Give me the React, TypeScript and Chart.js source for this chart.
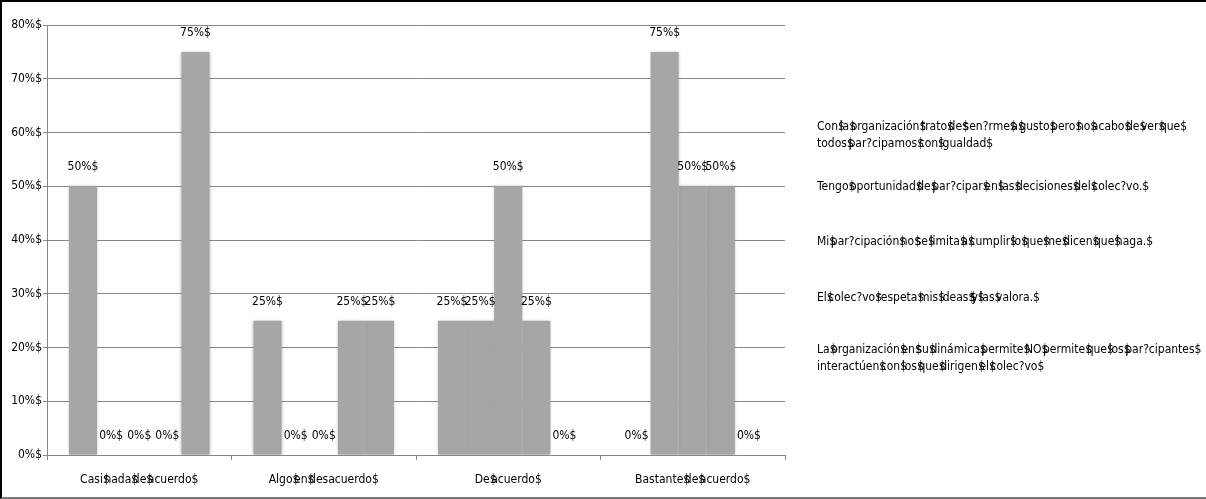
import React, { useEffect, useRef } from "react";
import { Chart, registerables } from "chart.js";

Chart.register(...registerables);

const categories = [
  "Casi$nada$de$acuerdo$",
  "Algo$en$desacuerdo$",
  "De$acuerdo$",
  "Bastante$de$acuerdo$",
];

const seriesNames = [
  "Con$la$organización$trato$de$sen?rme$a$gusto$pero$no$acabo$de$ver$que$\ntodos$par?cipamos$con$igualdad$",
  "Tengo$oportunidad$de$par?cipar$en$las$decisiones$del$colec?vo.$",
  "Mi$par?cipación$no$se$limita$a$cumplir$lo$que$me$dicen$que$haga.$",
  "El$colec?vo$respeta$mis$ideas$$y$las$valora.$",
  "La$organización$en$su$dinámica$permite$NO$permite$que$los$par?cipantes$\ninteractúen$con$los$que$dirigen$el$colec?vo$",
];

const series1 = [50, 25, 25, 0];
const series2 = [0, 0, 25, 75];
const series3 = [0, 0, 50, 50];
const series4 = [0, 25, 25, 50];
const series5 = [75, 25, 0, 0];

const yTicks = [0, 10, 20, 30, 40, 50, 60, 70, 80];

const legendLineTops = [118, 178, 233, 289, 341];

const FONT = "'DejaVu Sans Condensed', 'DejaVu Sans', sans-serif";
const FS = 12;
const LEGEND_FS = 12;
const DOLLAR_ADV = 1.5;

// draws text where an inner "$" only advances a little (overlapping the next glyph)
function drawDollarText(ctx: any, text: string, cx: number, cy: number) {
  const segs = text.split("$");
  const wD = ctx.measureText("$").width;
  let total = 0;
  segs.forEach((s, i) => {
    total += ctx.measureText(s).width;
    if (i < segs.length - 1) {
      const isLast = i === segs.length - 2 && segs[segs.length - 1] === "";
      total += isLast ? wD : DOLLAR_ADV;
    }
  });
  let x = cx - total / 2;
  ctx.textAlign = "left";
  ctx.textBaseline = "middle";
  segs.forEach((s, i) => {
    ctx.fillText(s, x, cy);
    x += ctx.measureText(s).width;
    if (i < segs.length - 1) {
      ctx.fillText("$", x, cy);
      const isLast = i === segs.length - 2 && segs[segs.length - 1] === "";
      x += isLast ? wD : DOLLAR_ADV;
    }
  });
}

const labelsPlugin = {
  id: "customLabels",
  afterDatasetsDraw(chart: any) {
    const ctx = chart.ctx;
    ctx.save();
    ctx.shadowColor = "transparent";
    ctx.shadowBlur = 0;
    ctx.font = `${FS}px ${FONT}`;
    ctx.fillStyle = "#000";
    ctx.textAlign = "center";
    ctx.textBaseline = "middle";
    chart.data.datasets.forEach((ds: any, i: number) => {
      const meta = chart.getDatasetMeta(i);
      meta.data.forEach((el: any, j: number) => {
        ctx.fillText(`${ds.data[j]}%$`, el.x, el.y - 19);
      });
    });
    const xs = chart.scales.x;
    chart.data.labels.forEach((lab: string, i: number) => {
      drawDollarText(ctx, lab, xs.getPixelForValue(i), xs.top + 25);
    });
    ctx.restore();
  },
};

const shadowPlugin = {
  id: "barShadow",
  beforeDatasetsDraw(chart: any) {
    const ctx = chart.ctx;
    ctx.save();
    ctx.shadowColor = "rgba(140,140,140,0.6)";
    ctx.shadowBlur = 3;
  },
  afterDatasetsDraw(chart: any) {
    chart.ctx.restore();
  },
};

function renderWithDollars(text: string) {
  const lines = text.split("\n");
  return lines.map((line, li) => (
    <div key={li} style={{ height: 17, lineHeight: "17px", whiteSpace: "nowrap" }}>
      {line.split("$").map((part, pi, arr) => (
        <React.Fragment key={pi}>
          {part}
          {pi < arr.length - 1 ? (
            <span
              style={{
                display: "inline-block",
                width: pi < arr.length - 2 ? 1.5 : "auto",
                overflow: "visible",
              }}
            >
              $
            </span>
          ) : null}
        </React.Fragment>
      ))}
    </div>
  ));
}

export default function App() {
  const canvasRef = useRef<HTMLCanvasElement | null>(null);

  useEffect(() => {
    if (!canvasRef.current) return;
    const all = [series1, series2, series3, series4, series5];
    const chart = new Chart(canvasRef.current, {
      type: "bar",
      data: {
        labels: categories,
        datasets: all.map((d, i) => ({
          label: seriesNames[i],
          data: d,
          backgroundColor: "#a6a6a6",
          borderWidth: 0,
          categoryPercentage: 0.762,
          barPercentage: 1.0,
        })),
      },
      options: {
        animation: false,
        responsive: false,
        maintainAspectRatio: false,
        layout: { padding: { left: 0, top: 25, right: 421, bottom: 0 } },
        plugins: {
          legend: { display: false },
          tooltip: { enabled: false },
          title: { display: false },
        },
        scales: {
          x: {
            offset: true,
            grid: {
              offset: true,
              drawOnChartArea: false,
              drawTicks: true,
              tickLength: 5,
              color: "#868686",
            },
            border: { display: true, color: "#868686" },
            ticks: { display: false },
            afterFit(scale: any) {
              scale.height = 44;
            },
          },
          y: {
            min: 0,
            max: 80,
            afterBuildTicks(scale: any) {
              scale.ticks = yTicks.map((v) => ({ value: v }));
            },
            grid: {
              color: "#868686",
              tickLength: 4,
              drawTicks: true,
            },
            border: { display: true, color: "#868686" },
            ticks: {
              color: "#000",
              font: { family: FONT, size: FS },
              padding: 1,
              callback: (v: any) => `${v}%$`,
            },
            afterFit(scale: any) {
              scale.width = 47;
            },
          },
        },
      },
      plugins: [shadowPlugin, labelsPlugin],
    });
    return () => chart.destroy();
  }, []);

  return (
    <div
      style={{
        position: "fixed",
        left: 0,
        top: 0,
        width: 1206,
        height: 499,
        background: "#fff",
        overflow: "hidden",
      }}
    >
      <canvas ref={canvasRef} width={1206} height={499} style={{ position: "absolute", left: 0, top: 0 }} />
      {seriesNames.map((name, i) => (
        <div
          key={i}
          style={{
            position: "absolute",
            left: 817,
            top: legendLineTops[i],
            fontFamily: FONT,
            fontSize: LEGEND_FS,
            color: "#000",
          }}
        >
          {renderWithDollars(name)}
        </div>
      ))}
      <div
        style={{
          position: "absolute",
          left: 0,
          top: 0,
          width: 1206,
          height: 499,
          boxSizing: "border-box",
          borderTop: "2px solid #000",
          borderLeft: "2px solid #000",
          borderBottom: "2px solid #777",
          pointerEvents: "none",
        }}
      />
    </div>
  );
}
